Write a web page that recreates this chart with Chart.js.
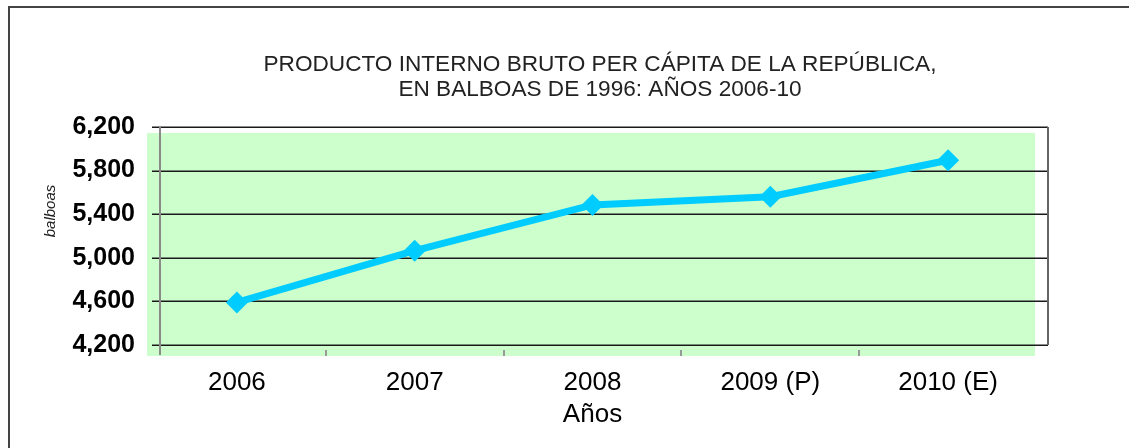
<!DOCTYPE html>
<html><head><meta charset="utf-8">
<script src="https://cdn.jsdelivr.net/npm/chart.js@4.4.1/dist/chart.umd.min.js"></script>
<style>html,body{margin:0;padding:0;background:#fff;overflow:hidden}#wrap{width:1129px;height:448px;position:relative}</style>
</head><body><div id="wrap"><canvas id="c" width="1129" height="448"></canvas></div>
<script>
const categories = ['2006', '2007', '2008', '2009 (P)', '2010 (E)'];
const pibPerCapita = [4590, 5065, 5485, 5560, 5895];
const yTickValues = [4200, 4600, 5000, 5400, 5800, 6200];
const titleLines = ['PRODUCTO INTERNO BRUTO PER CÁPITA DE LA REPÚBLICA,', 'EN BALBOAS DE 1996: AÑOS 2006-10'];
const yTitle = 'balboas';
const xTitle = 'Años';

const FONT = '"Liberation Sans", Arial, sans-serif';

const framePlugin = {
  id: 'frame',
  beforeDraw(chart) {
    const {ctx, chartArea: a} = chart;
    ctx.save();
    ctx.strokeStyle = '#444';
    ctx.lineWidth = 2;
    ctx.beginPath();
    ctx.moveTo(9, 470); ctx.lineTo(9, 7); ctx.lineTo(1140, 7);
    ctx.stroke();
    ctx.fillStyle = '#CCFFCC';
    ctx.fillRect(a.left - 1, a.top + 6, (a.right - 2) - (a.left - 1), a.bottom - a.top + 5);
    ctx.restore();
  },
  beforeDatasetsDraw(chart) {
    const {ctx, chartArea: a, scales: {x, y}} = chart;
    ctx.save();
    ctx.strokeStyle = '#1a1a1a';
    ctx.lineWidth = 1.5;
    yTickValues.forEach(v => {
      const py = Math.round(y.getPixelForValue(v)) + 0.25;
      ctx.beginPath(); ctx.moveTo(a.left + 4, py); ctx.lineTo(a.right + 11, py); ctx.stroke();
    });
    ctx.strokeStyle = '#666';
    ctx.lineWidth = 2;
    ctx.beginPath(); ctx.moveTo(a.right + 11, y.getPixelForValue(6200)); ctx.lineTo(a.right + 11, y.getPixelForValue(4200)); ctx.stroke();
    ctx.strokeStyle = '#8a8a8a';
    ctx.beginPath(); ctx.moveTo(a.left + 12, y.getPixelForValue(6200)); ctx.lineTo(a.left + 12, a.bottom + 10); ctx.stroke();
    ctx.strokeStyle = '#999';
    for (let i = 0; i < categories.length - 1; i++) {
      const px = Math.round((x.getPixelForValue(i) + x.getPixelForValue(i + 1)) / 2);
      ctx.beginPath(); ctx.moveTo(px, a.bottom + 5); ctx.lineTo(px, a.bottom + 11); ctx.stroke();
    }
    ctx.restore();
  },
  afterDraw(chart) {
    const {ctx} = chart;
    ctx.save();
    ctx.translate(51, 211);
    ctx.rotate(-Math.PI / 2);
    ctx.font = 'italic 15px ' + FONT;
    ctx.fillStyle = '#222';
    ctx.textAlign = 'center';
    ctx.textBaseline = 'middle';
    ctx.fillText(yTitle, 0, 0);
    ctx.restore();
  }
};

new Chart(document.getElementById('c'), {
  type: 'line',
  data: {
    labels: categories,
    datasets: [{
      data: pibPerCapita,
      borderColor: '#00CCFF',
      backgroundColor: '#00CCFF',
      borderWidth: 7,
      pointStyle: 'rectRot',
      pointRadius: 11,
      pointBorderWidth: 0,
      pointBackgroundColor: '#00CCFF',
      tension: 0,
      fill: false
    }]
  },
  options: {
    responsive: false,
    animation: false,
    devicePixelRatio: 1,
    layout: {padding: {left: 71, right: 0, top: 0, bottom: 0}},
    plugins: {
      legend: {display: false},
      tooltip: {enabled: false},
      title: {
        display: true,
        text: titleLines,
        color: '#222',
        font: {family: FONT, size: 22.6, weight: 'normal', lineHeight: 1.07},
        padding: {top: 53, bottom: 25.6}
      }
    },
    scales: {
      x: {
        type: 'category',
        offset: true,
        grid: {display: false, drawTicks: false},
        border: {display: false},
        ticks: {
          color: '#000',
          padding: 22,
          maxRotation: 0,
          autoSkip: false,
          font: {family: FONT, size: 26}
        },
        title: {
          display: true,
          text: xTitle,
          color: '#000',
          font: {family: FONT, size: 26},
          padding: {top: 0, bottom: 18}
        },
        afterFit(scale) { scale.height = 103; }
      },
      y: {
        min: 4200,
        max: 6200,
        grid: {display: false, drawTicks: false},
        border: {display: false},
        afterBuildTicks(scale) { scale.ticks = yTickValues.map(v => ({value: v})); },
        ticks: {
          color: '#000',
          padding: 13,
          font: {family: FONT, size: 25, weight: 'bold'},
          callback: v => v.toLocaleString('en-US')
        },
        afterFit(scale) { scale.width = 77; }
      },
      yRight: {
        position: 'right',
        display: true,
        grid: {display: false, drawTicks: false},
        border: {display: false},
        ticks: {display: false},
        afterFit(scale) { scale.width = 92; }
      }
    }
  },
  plugins: [framePlugin]
});
</script>
</body></html>
